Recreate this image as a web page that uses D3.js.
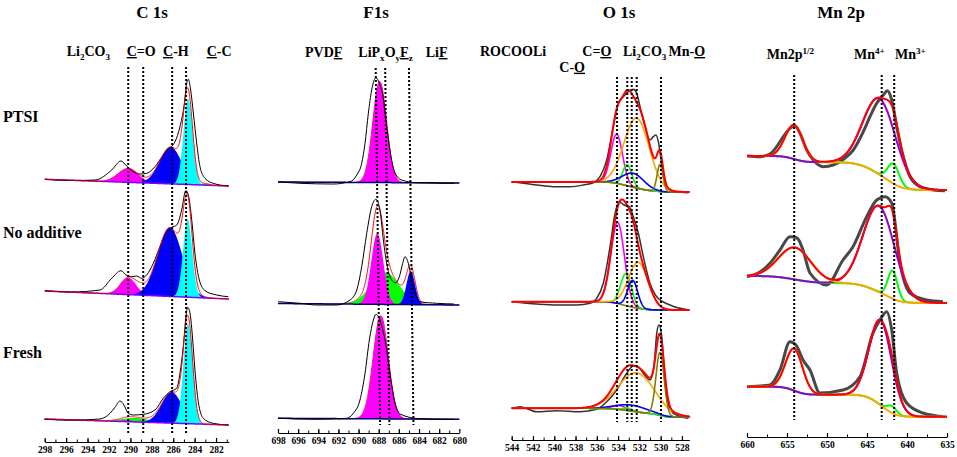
<!DOCTYPE html>
<html>
<head>
<meta charset="utf-8">
<script src="https://cdn.jsdelivr.net/npm/d3@7"></script>
<style>
  body { margin: 0; background: #fff; }
  svg { display: block; }
  svg text { font-family: "Times New Roman", "Liberation Serif", Tinos, Times, "DejaVu Serif", serif; font-weight: bold; }
</style>
</head>
<body>
<svg id="fig" width="957" height="457"></svg>
<script>
// ---------------- data ----------------
var rowNames = ["PTSI", "No additive", "Fresh"];

var c1sTicks = [298, 296, 294, 292, 290, 288, 286, 284, 282];
var f1sTicks = [698, 696, 694, 692, 690, 688, 686, 684, 682, 680];
var o1sTicks = [544, 542, 540, 538, 536, 534, 532, 530, 528];
var mn2pTicks = [660, 655, 650, 645, 640, 635];

// reference positions (eV); F1s lines are slightly tilted: [top, bottom]
var c1sRefs = [290.2, 288.8, 286.1, 284.8];
var f1sRefs = [[688.3, 687.86], [687.36, 686.94], [685.0, 684.55]];
var o1sRefs = [534.1, 533.14, 532.72, 532.25, 529.97];
var mn2pRefs = [654.1, 643.16, 641.6];

// fitted components per sample: [centre eV, height a.u., fwhm eV]
var c1sPeaks = [
  { green: [283.0, 1.5, 1.0], magenta: [290.2, 14, 2.2], blue: [286.24, 37, 2.4], cyan: [284.62, 86, 1.0] },
  { green: [289.1, 4, 1.2], magenta: [290.2, 17, 1.7], blue: [286.3, 69, 2.7], cyan: [284.65, 78, 1.0] },
  { green: [289.5, 4, 3.0], magenta: [290.2, 1.5, 1.5], blue: [286.14, 31, 2.2], cyan: [284.62, 100, 1.0] }
];
var f1sPeaks = [
  { magenta: [687.9, 101, 1.6] },
  { green: [687.37, 32, 3.3], magenta: [688.14, 71, 1.4], blue: [684.82, 33.5, 1.0] },
  { magenta: [687.8, 103, 1.75] }
];
var o1sPeaks = [
  { magenta: [534.13, 49, 1.3], green: [533.14, 21, 1.0], blue: [532.57, 14, 2.4], orange: [532.25, 70, 2.8], olive: [530.06, 27, 0.65] },
  { magenta: [534.04, 81, 1.5], green: [533.26, 32, 1.2], blue: [532.63, 27, 1.1], orange: [532.1, 46, 2.2] },
  { magenta: [533.9, 4, 1.5], green: [533.1, 2.5, 1.0], blue: [532.7, 6, 3.5], orange: [532.25, 39, 4.0], olive: [530.06, 63, 0.9] }
];
var mn2pPeaks = [
  { green: [641.7, 20, 1.7], purple: [643.4, 76, 4.8], orange: [654.1, 34, 2.6] },
  { green: [641.8, 28, 1.4], purple: [643.5, 86, 4.6], orange: [654.0, 32, 4.8] },
  { green: [641.9, 7, 1.4], purple: [643.3, 85, 3.3], orange: [654.1, 42, 2.5] }
];

// background level at the high binding energy end (low end = 0)
var c1sBgLeft = [6.7, 8, 6];
var f1sBgLeft = [1, 1.5, 1];
var o1sBgLeft = [10, 8.3, 8.7];
var mn2pBgLeft = [34, 27, 30];

// measured spectra: [eV, intensity a.u.]
var c1sMeasured = [
  [[297.97, 6.7], [295.5, 5.5], [293.3, 6], [291.74, 16], [290.88, 25], [290.35, 20], [289.73, 14.3], [289.1, 12], [288.48, 12.7], [287.7, 19.3], [286.93, 31], [286.24, 38.7], [285.83, 44.3], [285.37, 59.3], [285.0, 79.3], [284.74, 102.7], [284.59, 106.7], [284.37, 96], [284.12, 73], [283.81, 43], [283.5, 19.3], [283.03, 7.7], [282.26, 2.7], [280.86, 0]],
  [[297.97, 8.3], [295.5, 7], [292.84, 9], [291.74, 20.7], [290.88, 28.3], [290.41, 24], [289.88, 22.3], [289.41, 23], [288.94, 20.7], [288.48, 24], [287.86, 35.7], [287.24, 52.3], [286.61, 67.3], [286.14, 71.7], [285.67, 74], [285.21, 89], [284.83, 108.3], [284.59, 104], [284.27, 79], [283.97, 45.7], [283.56, 19], [283.03, 8.3], [281.94, 4], [280.86, 2.3]],
  [[298.04, 5.7], [295.5, 4.8], [292.84, 6], [291.9, 11.7], [291.44, 17.7], [290.97, 24], [290.6, 20], [290.2, 11.7], [289.73, 10], [288.79, 10.7], [287.7, 15], [286.93, 26.7], [286.3, 33.3], [285.67, 36.7], [285.37, 51.7], [285.06, 78.3], [284.81, 108.3], [284.65, 117.7], [284.43, 111.7], [284.18, 85], [283.97, 55], [283.66, 23.3], [283.19, 6.7], [282.26, 1.7], [280.86, 0]]
];
var f1sMeasured = [
  [[697.97, 1.3], [695.82, -0.3], [692.51, -1], [690.85, 1.3], [690.18, 8], [689.69, 19.7], [689.36, 39.7], [689.03, 69.7], [688.7, 93], [688.27, 105.3], [687.94, 99.7], [687.6, 88], [687.28, 62], [686.88, 32], [686.38, 10], [685.72, 3], [684.23, 0.3], [680.52, -0.3]],
  [[697.97, 3.3], [695.82, 1.7], [694.16, 0], [692.17, 0], [690.85, 5], [690.18, 15], [689.69, 38.3], [689.19, 71.7], [688.7, 98.3], [688.27, 105.7], [687.88, 95], [687.54, 65], [687.15, 38.3], [686.71, 25], [686.31, 22.3], [685.95, 28.3], [685.62, 41.7], [685.39, 48.3], [685.06, 41.7], [684.72, 25], [684.4, 11.7], [683.9, 3.3], [682.24, 1.7], [680.52, 1]],
  [[697.97, 1], [694.16, 0], [691.18, 1], [690.52, 6], [689.86, 19.3], [689.36, 46], [688.93, 79.3], [688.53, 99.3], [688.27, 105], [687.97, 101.3], [687.67, 92.3], [687.28, 74], [686.88, 45], [686.38, 16], [685.88, 5.3], [683.9, 0.5], [680.52, 0]]
];
var o1sMeasured = [
  [[544.0, 10.3], [542.91, 8.7], [541.65, 7], [540.09, 5.3], [538.52, 5.3], [537.27, 7], [536.33, 9.3], [535.7, 15.3], [535.07, 32], [534.45, 65.3], [533.98, 88.7], [533.51, 95.3], [533.04, 100.3], [532.57, 102.7], [532.25, 98.7], [531.94, 85.3], [531.47, 65.3], [531.0, 52], [530.69, 55.3], [530.44, 57], [530.22, 50.3], [530.0, 35.3], [529.75, 15.3], [529.28, 3.7], [528.49, 0.3], [527.4, -0.7]],
  [[544.0, 8.3], [541.65, 6], [539.77, 5], [537.89, 5], [536.64, 6.7], [536.01, 11.7], [535.39, 26.7], [534.76, 63.3], [534.29, 96.7], [533.89, 108.3], [533.45, 105], [532.95, 103.3], [532.57, 93.3], [532.1, 76.7], [531.63, 53.3], [531.0, 26.7], [530.37, 13.3], [529.12, 5], [527.4, 0]],
  [[544.0, 8.7], [543.22, 10.3], [541.65, 5.3], [539.77, 6.3], [537.58, 5.3], [536.01, 7.7], [535.07, 15.3], [534.13, 27], [533.19, 43.7], [532.57, 51], [532.1, 50.3], [531.63, 43.7], [531.0, 37], [530.63, 50.3], [530.37, 83.7], [530.16, 92], [529.9, 80.3], [529.69, 50.3], [529.38, 17], [528.81, 3.7], [527.4, -1.3]]
];
var mn2pMeasured = [
  [[659.96, 34], [658.38, 33.3], [657.13, 36], [656.29, 43.3], [655.46, 53.3], [654.63, 61.7], [654.0, 64], [653.38, 56.7], [652.54, 40], [651.71, 30], [650.46, 23.3], [649.21, 25], [647.96, 30.7], [646.71, 40], [645.46, 58.3], [644.63, 73.3], [643.79, 86.7], [642.96, 95], [642.46, 99.3], [641.91, 90], [641.29, 63.3], [640.46, 33.3], [639.63, 13.3], [638.38, 3.3], [636.71, 0], [635.25, -0.7]],
  [[660.0, 26.3], [658.38, 31], [657.13, 39.7], [655.88, 53], [654.63, 66.3], [653.75, 65], [653.0, 53], [652.13, 30], [650.04, 18], [648.0, 43], [646.75, 56.3], [645.04, 86.3], [643.79, 103], [642.75, 106.3], [641.91, 100], [640.88, 40], [639.63, 10], [637.54, 3], [635.5, 1.3]],
  [[660.0, 30], [657.13, 31.7], [655.88, 46.7], [654.63, 75], [653.88, 71.7], [653.0, 56.7], [652.13, 46.7], [650.88, 23.7], [648.0, 26.7], [645.88, 40], [644.25, 83.7], [643.38, 96.7], [642.54, 105], [641.91, 86.7], [641.29, 43.7], [640.04, 13.7], [638.0, 3.7], [635.5, 0]]
];

// ---------------- layout ----------------
var colors = {
  magenta: "#ff00ff", green: "#00ff00", blue: "#0000ff", cyan: "#00ffff",
  orange: "#ffa500", olive: "#808000", purple: "#9400d3"
};

var panels = [
  { title: "C 1s", titleX: 152, domain: [298, 280.8], range: [44.7, 228.9], axisY: 442,
    ticks: c1sTicks, minor: 1, rowBase: [186, 299, 425], bgLeft: c1sBgLeft, bgType: "linear",
    peaks: c1sPeaks, measured: c1sMeasured, refs: c1sRefs, refY: [67, 435],
    mode: "fill", order: ["green", "magenta", "blue", "cyan"], bgColor: "#8000ff", redOnTop: true,
    labels: [
      { x: 66.7, y: 56, segs: [["Li"], ["2", "sub"], ["CO"], ["3", "sub"]] },
      { x: 126.7, y: 56, segs: [["C", "u"], ["=O"]] },
      { x: 163, y: 56, segs: [["C", "u"], ["-H"]] },
      { x: 206.7, y: 56, segs: [["C", "u"], ["-C"]] }
    ] },
  { title: "F1s", titleX: 376, domain: [698, 680], range: [278, 459.3], axisY: 433,
    ticks: f1sTicks, minor: 1, rowBase: [183, 305, 419.3], bgLeft: f1sBgLeft, bgType: "linear",
    peaks: f1sPeaks, measured: f1sMeasured, refs: f1sRefs, refY: [68, 425],
    mode: "fill", order: ["green", "magenta", "blue"], bgColor: "#000080", redOnTop: false,
    labels: [
      { x: 305, y: 57, segs: [["PVD"], ["F", "u"]] },
      { x: 358.3, y: 57, segs: [["LiP"], ["x", "sub"], ["O"], ["y", "sub"], ["F", "u"], ["z", "sub"]] },
      { x: 425.7, y: 57, segs: [["Li"], ["F", "u"]] }
    ] },
  { title: "O 1s", titleX: 619, domain: [544, 527.3], range: [511.7, 689.4], axisY: 440,
    ticks: o1sTicks, minor: 1, rowBase: [192, 310, 417], bgLeft: o1sBgLeft, bgType: "shirley",
    peaks: o1sPeaks, measured: o1sMeasured, refs: o1sRefs, refY: [77, 422],
    mode: "line", order: ["magenta", "green", "blue", "orange", "olive"], bgColor: "#808000", redOnTop: true,
    measuredColor: "#333", measuredWidth: 1.5, lineWidth: 1.6,
    labels: [
      { x: 480, y: 56, segs: [["ROCOOLi"]] },
      { x: 582.3, y: 56, segs: [["C="], ["O", "u"]] },
      { x: 623, y: 56, segs: [["Li"], ["2", "sub"], ["CO"], ["3", "sub"]] },
      { x: 668.5, y: 56, segs: [["Mn-"], ["O", "u"]] },
      { x: 559.3, y: 71.7, segs: [["C-"], ["O", "u"]] }
    ] },
  { title: "Mn 2p", titleX: 841, domain: [660, 635], range: [747, 947], axisY: 437,
    ticks: mn2pTicks, minor: 2.5, rowBase: [190, 303, 416.7], bgLeft: mn2pBgLeft, bgType: "shirley",
    peaks: mn2pPeaks, measured: mn2pMeasured, refs: mn2pRefs, refY: [75, 420],
    mode: "line", order: ["green", "purple", "orange"], bgColor: null, redOnTop: true,
    measuredColor: "#484848", measuredWidth: 3, lineWidth: 2,
    labels: [
      { x: 766.7, y: 59, segs: [["Mn2p"], ["1/2", "sup"]] },
      { x: 854, y: 59, segs: [["Mn"], ["4+", "sup"]] },
      { x: 895, y: 59, segs: [["Mn"], ["3+", "sup"]] }
    ] }
];

var rowLabelY = [121.7, 238, 358];

// ---------------- drawing ----------------
var svg = d3.select("#fig");

var gauss = function(e, p) {
  var d = (e - p[0]) / p[2];
  return p[1] * Math.exp(-4 * Math.LN2 * d * d);
};

var background = function(type, grid, sum, left, domain) {
  if (type == "linear") {
    return grid.map(function(e) {
      return left * (e - domain[1]) / (domain[0] - domain[1]);
    });
  }
  // shirley: step follows integrated peak area from the low energy end
  var cum = new Array(grid.length);
  var acc = 0;
  for (var i = grid.length - 1; i >= 0; i--) {
    acc += sum[i];
    cum[i] = acc;
  }
  return cum.map(function(c) { return left * c / acc; });
};

var richText = function(g, x, y, segs, size) {
  var t = g.append("text").attr("x", x).attr("y", y).attr("font-size", size);
  var shift = 0;
  segs.forEach(function(s) {
    var sp = t.append("tspan").text(s[0]);
    var target = 0;
    if (s[1] == "sub") target = 3.5;
    if (s[1] == "sup") target = -5.5;
    if (target != shift) sp.attr("dy", target - shift);
    shift = target;
    if (s[1] == "sub" || s[1] == "sup") sp.attr("font-size", size * 0.65);
    if (s[1] == "u") sp.style("text-decoration", "underline");
  });
};

panels.forEach(function(p) {
  var x = d3.scaleLinear().domain(p.domain).range(p.range);
  var g = svg.append("g");
  var grid = d3.range(p.domain[0], p.domain[1], -0.02);
  grid.push(p.domain[1]);

  p.rowBase.forEach(function(base, r) {
    var y = d3.scaleLinear().domain([0, 100]).range([base, base - 100]);
    var peaks = p.peaks[r];
    var names = p.order.filter(function(n) { return peaks[n]; });
    var comp = {};
    names.forEach(function(n) {
      comp[n] = grid.map(function(e) { return gauss(e, peaks[n]); });
    });
    var sum = grid.map(function(e, i) {
      return d3.sum(names, function(n) { return comp[n][i]; });
    });
    var bg = background(p.bgType, grid, sum, p.bgLeft[r], p.domain);
    var env = grid.map(function(e, i) { return bg[i] + sum[i]; });

    var rg = g.append("g");
    var envLine = d3.line()
      .x(function(d, i) { return x(grid[i]); })
      .y(function(d) { return y(d); });
    var measLine = d3.line()
      .x(function(d) { return x(d[0]); })
      .y(function(d) { return y(d[1]); })
      .curve(d3.curveMonotoneX);

    if (p.mode == "fill") {
      if (!p.redOnTop) {
        rg.append("path").attr("d", envLine(env))
          .attr("fill", "none").attr("stroke", "#ff0000").attr("stroke-width", 1);
      }
      names.forEach(function(n) {
        var area = d3.area()
          .defined(function(d, i) { return comp[n][i] > 0.15; })
          .x(function(d, i) { return x(grid[i]); })
          .y0(function(d, i) { return y(bg[i]); })
          .y1(function(d, i) { return y(bg[i] + comp[n][i]); });
        rg.append("path").attr("d", area(grid)).attr("fill", colors[n]);
      });
      rg.append("path").attr("d", envLine(bg))
        .attr("fill", "none").attr("stroke", p.bgColor).attr("stroke-width", 1.5);
      rg.append("path").attr("d", measLine(p.measured[r]))
        .attr("fill", "none").attr("stroke", "#000").attr("stroke-width", 1);
      if (p.redOnTop) {
        rg.append("path").attr("d", envLine(env))
          .attr("fill", "none").attr("stroke", "#ff0000").attr("stroke-width", 1);
      }
    } else {
      rg.append("path").attr("d", measLine(p.measured[r]))
        .attr("fill", "none").attr("stroke", p.measuredColor)
        .attr("stroke-width", p.measuredWidth).attr("stroke-linejoin", "round");
      if (p.bgColor) {
        rg.append("path").attr("d", envLine(bg))
          .attr("fill", "none").attr("stroke", p.bgColor).attr("stroke-width", p.lineWidth);
      }
      names.forEach(function(n) {
        var vals = grid.map(function(e, i) { return bg[i] + comp[n][i]; });
        rg.append("path").attr("d", envLine(vals))
          .attr("fill", "none").attr("stroke", colors[n]).attr("stroke-width", p.lineWidth);
      });
      rg.append("path").attr("d", envLine(env))
        .attr("fill", "none").attr("stroke", "#ff0000").attr("stroke-width", 2);
    }
  });

  // dotted reference lines
  p.refs.forEach(function(v) {
    var top = Array.isArray(v) ? v[0] : v;
    var bot = Array.isArray(v) ? v[1] : v;
    g.append("line")
      .attr("x1", x(top)).attr("x2", x(bot))
      .attr("y1", p.refY[0]).attr("y2", p.refY[1])
      .attr("stroke", "#000").attr("stroke-width", 2)
      .attr("stroke-dasharray", "2,2");
  });

  // axis
  var ax = g.append("g").attr("transform", "translate(0," + p.axisY + ")");
  var minorTicks = d3.range(p.ticks[0], p.domain[1], -p.minor);
  ax.call(d3.axisBottom(x).tickValues(minorTicks).tickSize(-2.5).tickSizeOuter(0).tickFormat(""));
  ax.select(".domain").remove();
  var axMajor = g.append("g").attr("transform", "translate(0," + p.axisY + ")");
  axMajor.call(d3.axisBottom(x).tickValues(p.ticks).tickSize(-4).tickSizeOuter(0)
    .tickPadding(4).tickFormat(d3.format("d")));
  axMajor.attr("font-family", null).attr("font-size", 9.5);
  axMajor.selectAll("path, line").attr("stroke", "#000").attr("stroke-width", 1.2);
  ax.selectAll("line").attr("stroke", "#000").attr("stroke-width", 1);
  axMajor.selectAll("text").attr("fill", "#000");

  // title and peak labels
  g.append("text").attr("x", p.titleX).attr("y", 18)
    .attr("text-anchor", "middle").attr("font-size", 17).text(p.title);
  p.labels.forEach(function(l) { richText(g, l.x, l.y, l.segs, 14); });
});

// sample names
svg.selectAll(".rowname").data(rowNames).enter().append("text")
  .attr("class", "rowname")
  .attr("x", 3)
  .attr("y", function(d, i) { return rowLabelY[i]; })
  .attr("font-size", 16)
  .text(function(d) { return d; });
</script>
</body>
</html>
